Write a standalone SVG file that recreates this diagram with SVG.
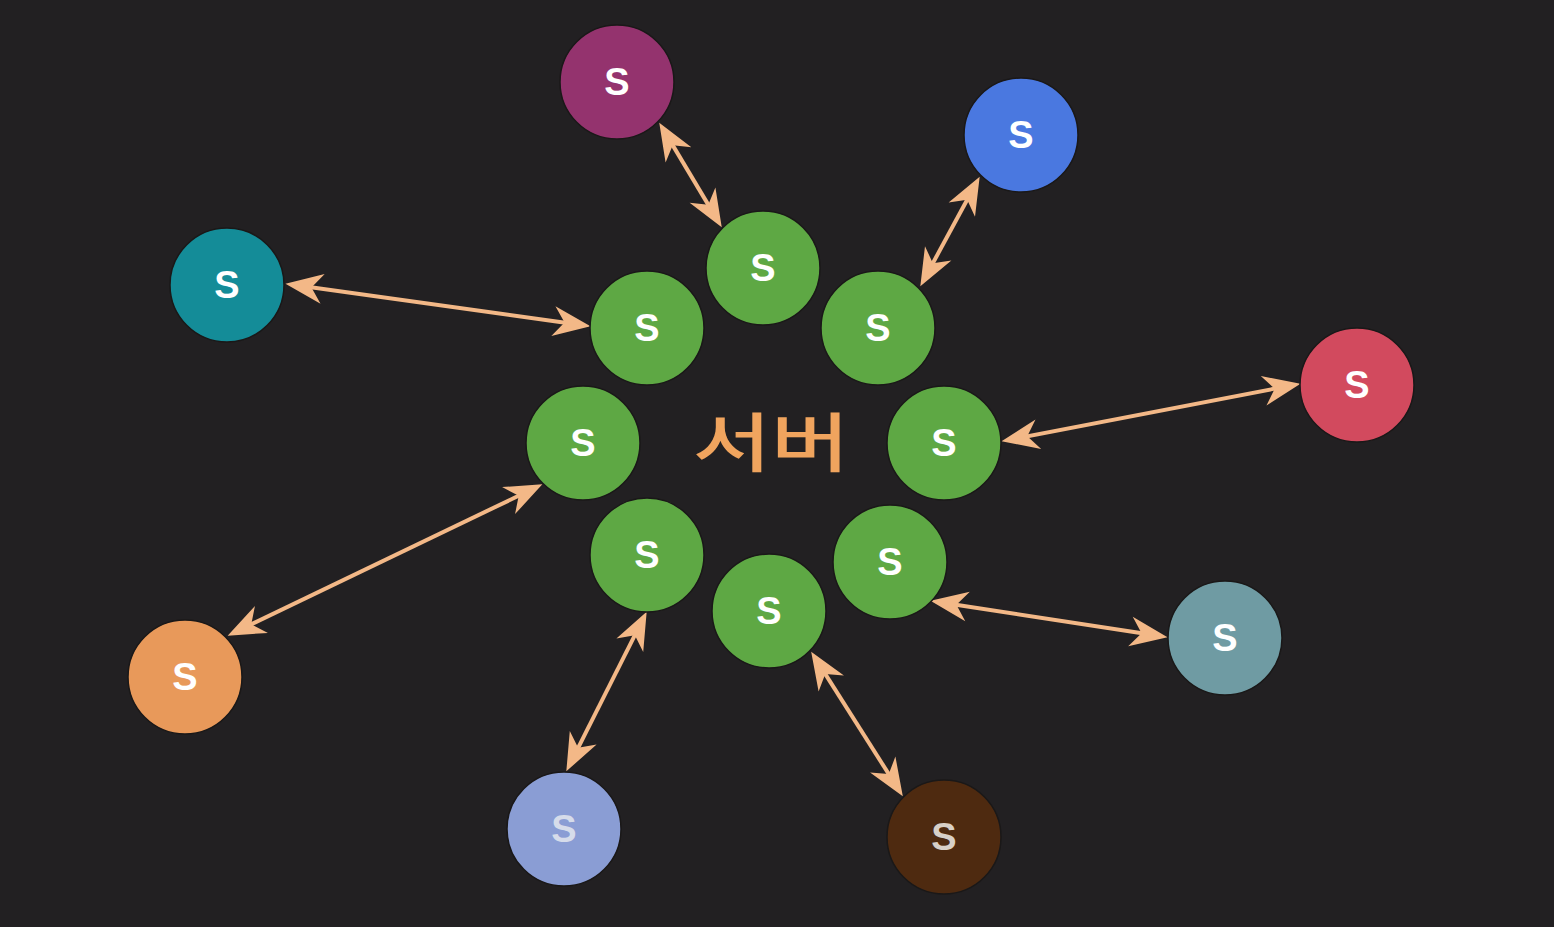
<svg xmlns="http://www.w3.org/2000/svg" width="1554" height="927" viewBox="0 0 1554 927">
<style>
.n{stroke:#1a1818;stroke-width:1.5}
.g{fill:#5ea844}
.t{font-family:"Liberation Sans",Arial,sans-serif;font-weight:bold;font-size:38px;fill:#ffffff;text-anchor:middle;dominant-baseline:central}
.c{stroke:#f3b887;stroke-width:4;fill:none;marker-start:url(#ah);marker-end:url(#ah)}
</style>
<defs>
<marker id="ah" markerUnits="userSpaceOnUse" markerWidth="40" markerHeight="40" viewBox="-30 -15 32 30" refX="-6" refY="0" orient="auto-start-reverse" overflow="visible">
<path d="M0,0 L-30,-12 L-21,0 L-30,12 Z" fill="#f3b887"/>
</marker>
</defs>
<rect width="1554" height="927" fill="#222022"/>
<g id="connectors">
<line class="c" x1="663.1" y1="129.1" x2="717.9" y2="220.9"/>
<line class="c" x1="976.1" y1="183.3" x2="923.9" y2="279.7"/>
<line class="c" x1="292.9" y1="284.8" x2="583.1" y2="325.2"/>
<line class="c" x1="1008.9" y1="439.9" x2="1293.1" y2="385.1"/>
<line class="c" x1="535.6" y1="487.6" x2="234.4" y2="632.4"/>
<line class="c" x1="937.9" y1="601.9" x2="1160.1" y2="636.1"/>
<line class="c" x1="643.3" y1="618.4" x2="569.7" y2="764.6"/>
<line class="c" x1="815.2" y1="658.1" x2="898.8" y2="789.9"/>
</g>
<g id="g1"><circle class="n g" cx="763" cy="268" r="57"/><text class="t" x="763" y="268">S</text></g>
<g id="g2"><circle class="n g" cx="647" cy="328" r="57"/><text class="t" x="647" y="328">S</text></g>
<g id="g3"><circle class="n g" cx="878" cy="328" r="57"/><text class="t" x="878" y="328">S</text></g>
<g id="g4"><circle class="n g" cx="583" cy="443" r="57"/><text class="t" x="583" y="443">S</text></g>
<g id="g5"><circle class="n g" cx="944" cy="443" r="57"/><text class="t" x="944" y="443">S</text></g>
<g id="g6"><circle class="n g" cx="647" cy="555" r="57"/><text class="t" x="647" y="555">S</text></g>
<g id="g7"><circle class="n g" cx="890" cy="562" r="57"/><text class="t" x="890" y="562">S</text></g>
<g id="g8"><circle class="n g" cx="769" cy="611" r="57"/><text class="t" x="769" y="611">S</text></g>
<g id="purple"><circle class="n" cx="617" cy="82" r="57" fill="#94336e"/><text class="t" x="617" y="82">S</text></g>
<g id="blue"><circle class="n" cx="1021" cy="135" r="57" fill="#4a78e0"/><text class="t" x="1021" y="135">S</text></g>
<g id="teal"><circle class="n" cx="227" cy="285" r="57" fill="#148c98"/><text class="t" x="227" y="285">S</text></g>
<g id="red"><circle class="n" cx="1357" cy="385" r="57" fill="#d24a5e"/><text class="t" x="1357" y="385">S</text></g>
<g id="orange"><circle class="n" cx="185" cy="677" r="57" fill="#e8995a"/><text class="t" x="185" y="677">S</text></g>
<g id="slate"><circle class="n" cx="1225" cy="638" r="57" fill="#6f9ba3"/><text class="t" x="1225" y="638">S</text></g>
<g id="lavender"><circle class="n" cx="564" cy="829" r="57" fill="#8a9dd4"/><text class="t" x="564" y="829" style="fill:#d6dcea">S</text></g>
<g id="brown"><circle class="n" cx="944" cy="837" r="57" fill="#4e2a10"/><text class="t" x="944" y="837" style="fill:#d8d0c8">S</text></g>
<g id="label"><text transform="translate(771,438) scale(1.12,0.84)" x="0" y="0" font-family="'Noto Sans CJK KR',sans-serif" font-weight="500" font-size="76" fill="#f0a45e" text-anchor="middle" dominant-baseline="central">서버</text></g>
</svg>
